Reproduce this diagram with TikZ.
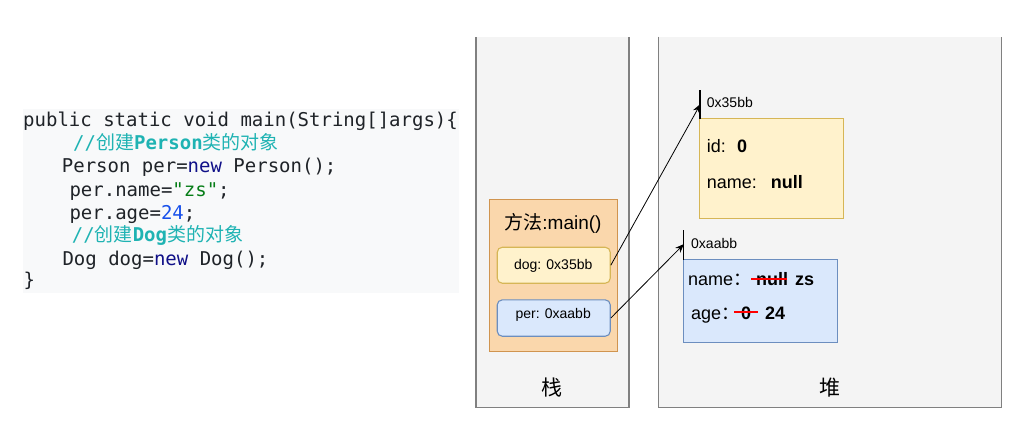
\documentclass[tikz,border=0pt]{standalone}
\usepackage{fontspec}
\usetikzlibrary{arrows.meta}
\setmainfont{Liberation Sans}
\newfontfamily\cjk{Noto Sans CJK SC}
\newfontfamily\mono{DejaVu Sans Mono}
\definecolor{codebg}{HTML}{F8F9FA}
\definecolor{codefg}{HTML}{1F2328}
\definecolor{cmt}{HTML}{1FB3B3}
\definecolor{kw}{HTML}{101088}
\definecolor{str}{HTML}{067D17}
\definecolor{num}{HTML}{1750EB}
\definecolor{areafill}{HTML}{F4F4F4}
\definecolor{areadraw}{HTML}{808080}
\definecolor{orfill}{HTML}{FAD7AC}
\definecolor{ordraw}{HTML}{D0944F}
\definecolor{yefill}{HTML}{FFF2CC}
\definecolor{yedraw}{HTML}{D6B656}
\definecolor{blfill}{HTML}{DAE8FC}
\definecolor{bldraw}{HTML}{6C8EBF}
\tikzset{
  code/.style={anchor=base west, inner sep=0pt, text=codefg, font=\mono\fontsize{19}{23}\selectfont},
  area/.style={fill=areafill, inner sep=0pt, anchor=north west},
  arealine/.style={draw=areadraw, line width=1.5pt},
  box/.style={inner sep=0pt, anchor=north west, line width=1.1pt},
  txt/.style={anchor=base west, inner sep=0pt, font=\fontsize{18}{22}\selectfont},
  small/.style={anchor=base west, inner sep=0pt, font=\fontsize{14}{17}\selectfont},
  marker/.style={draw=black, line width=1.2pt},
  ptr/.style={draw=black, line width=0.8pt, -{Stealth[length=9pt,width=7pt]}},
  strike/.style={draw=red, line width=2.2pt},
}
\begin{document}
\begin{tikzpicture}[x=1pt,y=-1pt]
\useasboundingbox (0,0) rectangle (1026,431);
% code block
\node[fill=codebg, inner sep=0pt, anchor=north west, minimum width=436.3pt, minimum height=184.4pt] (codebg) at (22.7,108.3) {};
\node[code] (l1) at (23,126.7) {public static void main(String[]args)\{};
\node[code, text=cmt] (l2) at (73,149.3) {//{\cjk 创建}\textbf{Person}{\cjk 类的对象}};
\node[code] (l3) at (61.7,172.7) {Person per=\textcolor{kw}{new} Person();};
\node[code] (l4) at (69.3,196) {per.name=\textcolor{str}{"zs"};};
\node[code] (l5) at (69.3,219.3) {per.age=\textcolor{num}{24};};
\node[code, text=cmt] (l6) at (71.7,241.7) {//{\cjk 创建}\textbf{Dog}{\cjk 类的对象}};
\node[code] (l7) at (62.3,265) {Dog dog=\textcolor{kw}{new} Dog();};
\node[code] (l8) at (23.3,286.7) {\}};
% stack area
\node[area, minimum width=152.7pt, minimum height=370pt] (stack) at (476,37) {};
\draw[arealine] (stack.north west) -- (stack.south west) -- (stack.south east) -- (stack.north east);
\node[font=\cjk\fontsize{21}{24}\selectfont, inner sep=0pt] (stacklbl) at (552,388) {栈};
% heap area
\node[area, minimum width=342.3pt, minimum height=370.3pt] (heap) at (658.7,36.7) {};
\draw[arealine] (heap.north west) -- (heap.south west) -- (heap.south east) -- (heap.north east);
\node[font=\cjk\fontsize{21}{24}\selectfont, inner sep=0pt] (heaplbl) at (830,388) {堆};
% method frame
\node[box, fill=orfill, draw=ordraw, minimum width=127.7pt, minimum height=152pt] (method) at (489.3,199) {};
\node[anchor=base, inner sep=0pt, font=\fontsize{19}{23}\selectfont] (mtitle) at (553,229.3) {{\cjk 方法}:main()};
\node[box, fill=yefill, draw=yedraw, rounded corners=5pt, minimum width=113pt, minimum height=36pt] (dog) at (496.7,246.7) {};
\node[anchor=base, inner sep=0pt, font=\fontsize{14}{17}\selectfont] (dogtxt) at (553.2,269.3) {dog: 0x35bb};
\node[box, fill=blfill, draw=bldraw, rounded corners=5pt, minimum width=113pt, minimum height=36.4pt] (per) at (496.7,299.3) {};
\node[anchor=base, inner sep=0pt, font=\fontsize{14}{17}\selectfont] (pertxt) at (553.2,318.3) {per: 0xaabb};
% dog object
\node[box, fill=yefill, draw=yedraw, minimum width=144pt, minimum height=100pt] (dogobj) at (698.7,118.3) {};
\node[txt] (idk) at (706.7,152.3) {id:};
\node[txt, font=\bfseries\fontsize{18}{22}\selectfont] (idv) at (737,152.3) {0};
\node[txt] (dnk) at (706.7,188.3) {name:};
\node[txt, font=\bfseries\fontsize{18}{22}\selectfont] (dnv) at (770.7,188.3) {null};
\coordinate (m1a) at (700,90);
\coordinate (m1b) at (700,119.3);
\draw[marker] (m1a) -- (m1b);
\coordinate (m1) at (700.5,104);
\node[small] (m1lbl) at (706.7,107.3) {0x35bb};
% person object
\node[box, fill=blfill, draw=bldraw, minimum width=154pt, minimum height=82.4pt] (perobj) at (682.7,259.3) {};
\node[txt] (pnk) at (688,285.5) {name{\cjk ：}};
\node[txt, font=\bfseries\fontsize{18}{22}\selectfont] (pnv) at (756,285.5) {null};
\node[txt, font=\bfseries\fontsize{18}{22}\selectfont] (pnz) at (795,285.5) {zs};
\draw[strike] (751,279.3) coordinate (s1a) -- (786.5,279.3) coordinate (s1b);
\node[txt] (pak) at (691,319) {age{\cjk ：}};
\node[txt, font=\bfseries\fontsize{18}{22}\selectfont] (pav) at (741,319) {0};
\node[txt, font=\bfseries\fontsize{18}{22}\selectfont] (pa2) at (765,319) {24};
\draw[strike] (734,312.3) coordinate (s2a) -- (758.3,312.3) coordinate (s2b);
\coordinate (m2a) at (683.7,230);
\coordinate (m2b) at (683.7,260);
\draw[marker] (m2a) -- (m2b);
\coordinate (m2) at (684,244);
\node[small] (m2lbl) at (691,248.3) {0xaabb};
% pointers
\draw[ptr] (dog.east) -- (m1);
\draw[ptr] (per.east) -- (m2);
\end{tikzpicture}
\end{document}
